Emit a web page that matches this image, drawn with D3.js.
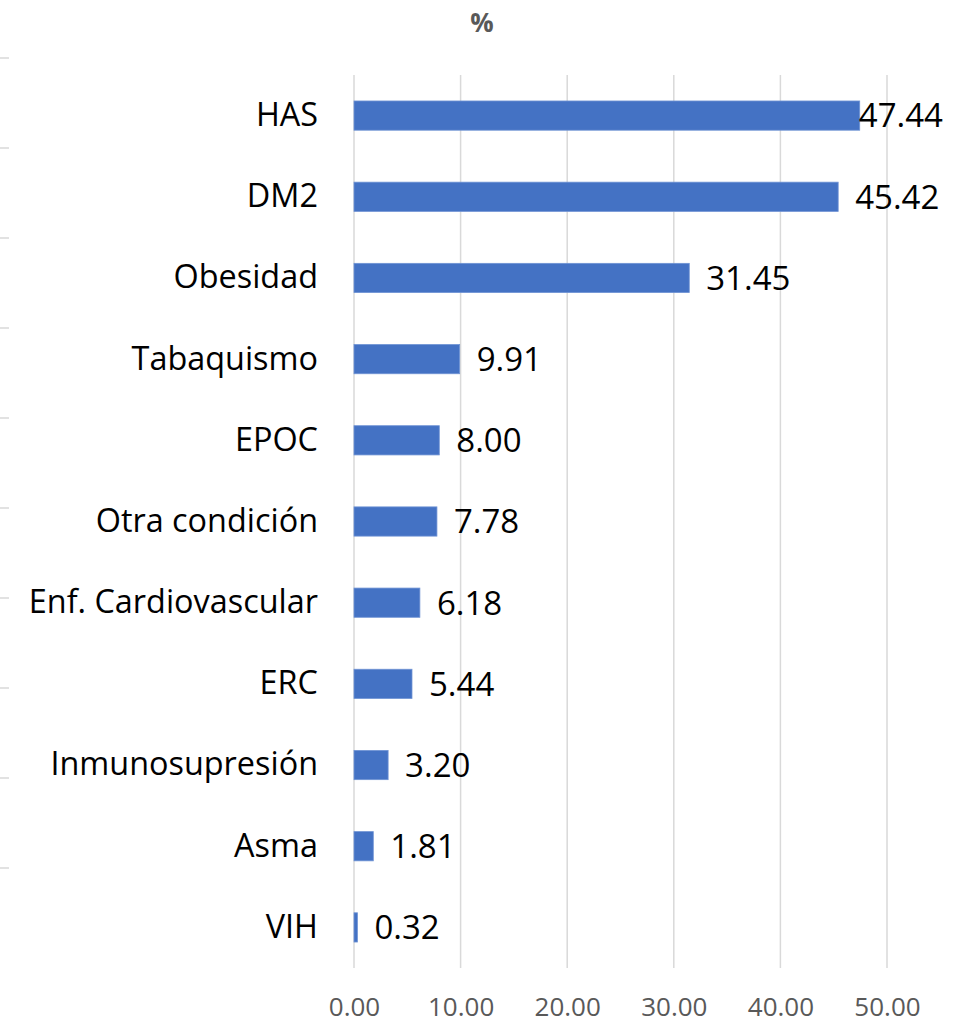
<!DOCTYPE html>
<html><head><meta charset="utf-8">
<script src="https://cdn.jsdelivr.net/npm/d3@7"></script>
<style>body{margin:0;background:#fff;} svg{display:block;}</style>
</head><body>
<svg id="chart" width="953" height="1024"></svg>
<script>
const categories = ["HAS","DM2","Obesidad","Tabaquismo","EPOC","Otra condición","Enf. Cardiovascular","ERC","Inmunosupresión","Asma","VIH"];
const values = [47.44,45.42,31.45,9.91,8.00,7.78,6.18,5.44,3.20,1.81,0.32];
const xTicks = [0,10,20,30,40,50];
const title = "%";
const leftStubs = [0,1,2,3,4,5,6,7,8,9];

const svg = d3.select("#chart");
const font = "'Open Sans', sans-serif";
const x = d3.scaleLinear().domain([0,50]).range([354,887]);
const y = d3.scaleBand().domain(categories).range([75,968]).paddingInner(0.64).paddingOuter(0.32);

// left-edge stubs (from neighbouring chart)
const stubY = d3.scaleLinear().domain([0,9]).range([58,868]);
svg.append("g").selectAll("line").data(leftStubs).join("line")
  .attr("x1",0).attr("x2",9).attr("y1",d=>stubY(d)).attr("y2",d=>stubY(d))
  .attr("stroke","#d9d9d9").attr("stroke-width",1.5);

// gridlines
svg.append("g").selectAll("line").data(xTicks).join("line")
  .attr("x1",d=>x(d)).attr("x2",d=>x(d)).attr("y1",75).attr("y2",968)
  .attr("stroke","#d9d9d9").attr("stroke-width",1.5);

// x axis
const xAxis = svg.append("g").attr("transform","translate(0,968)")
  .call(d3.axisBottom(x).tickValues(xTicks).tickFormat(d3.format(".2f")).tickSize(0).tickPadding(30));
xAxis.select(".domain").remove();
xAxis.selectAll("text").attr("font-family",font).attr("font-size",26).attr("fill","#595959");

// y axis
const yAxis = svg.append("g").attr("transform","translate(354,0)")
  .call(d3.axisLeft(y).tickSize(0).tickPadding(36));
yAxis.select(".domain").remove();
yAxis.selectAll("text").attr("font-family",font).attr("font-size",32.4).attr("fill","#000");

// bars
svg.append("g").selectAll("rect").data(values).join("rect")
  .attr("x",x(0)).attr("y",(d,i)=>y(categories[i]))
  .attr("width",d=>x(d)-x(0)).attr("height",y.bandwidth())
  .attr("fill","#4472C4").attr("stroke","#6f93d4").attr("stroke-width",0.8);

// value labels
const lbl = svg.append("g").selectAll("text").data(values).join("text")
  .attr("y",(d,i)=>y(categories[i])+y.bandwidth()/2)
  .attr("dy","0.36em")
  .attr("font-family",font).attr("font-size",33).attr("fill","#000")
  .text(d=>d.toFixed(2));
lbl.each(function(d){
  const w = this.getComputedTextLength();
  this.setAttribute("x", Math.min(x(d)+17, 943-w));
});

// title
svg.append("text").attr("x",482).attr("y",32).attr("text-anchor","middle")
  .attr("font-family",font).attr("font-size",26).attr("font-weight","bold").attr("fill","#595959")
  .text(title);
</script>
</body></html>
